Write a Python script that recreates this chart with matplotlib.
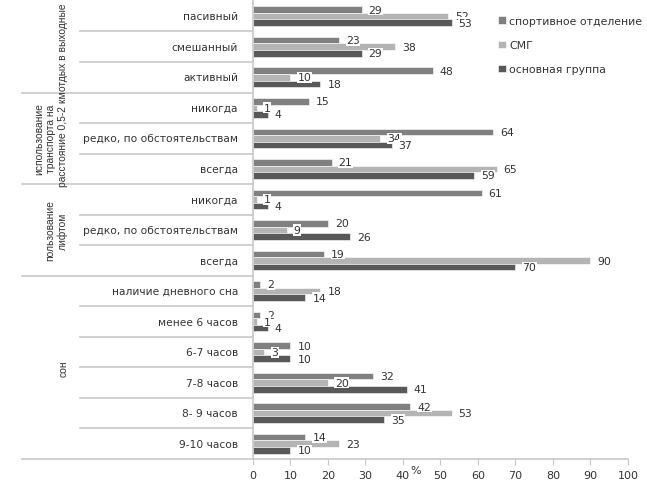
import matplotlib
matplotlib.use("Agg")
import matplotlib.pyplot as plt
import matplotlib.transforms as mtransforms

# ── Данные ───────────────────────────────────────────────────────────────────
categories = [
    'пасивный', 'смешанный', 'активный',
    'никогда', 'редко, по обстоятельствам', 'всегда',
    'никогда', 'редко, по обстоятельствам', 'всегда',
    'наличие дневного сна', 'менее 6 часов', '6-7 часов',
    '7-8 часов', '8- 9 часов', '9-10 часов',
]
sport = [29, 23, 48, 15, 64, 21, 61, 20, 19, 2, 2, 10, 32, 42, 14]
smg   = [52, 38, 10, 1, 34, 65, 1, 9, 90, 18, 1, 3, 20, 53, 23]
main  = [53, 29, 18, 4, 37, 59, 4, 26, 70, 14, 4, 10, 41, 35, 10]

series_names = ['спортивное отделение', 'СМГ', 'основная группа']

groups = ['отдых в выходные',
          'использование\nтранспорта на\nрасстояние 0,5-2 км',
          'пользование\nлифтом',
          'сон']
group_sizes = [3, 3, 3, 6]

xticks = list(range(0, 101, 10))

# ── Стиль ────────────────────────────────────────────────────────────────────
colors = ['#808080', '#b4b4b4', '#595959']
line_col = '#c8c8c8'
txt_col = '#333333'

fig = plt.figure(figsize=(6.47, 4.85), dpi=100)
fig.patch.set_facecolor('white')
ax = fig.add_axes([0.391, 0.0515, 0.5795, 0.9445])

bh = 0.215
offs = [-bh, 0.0, bh]
for vals, off, col, name in zip([sport, smg, main], offs, colors, series_names):
    ys = [i + off for i in range(len(categories))]
    ax.barh(ys, vals, height=bh, color=col, edgecolor='white',
            linewidth=0.4, label=name)
    for y, v in zip(ys, vals):
        ax.annotate(str(v), (v, y), xytext=(5, 0), textcoords='offset points',
                    ha='left', va='center', fontsize=7.8, color=txt_col,
                    bbox=dict(boxstyle='square,pad=0.05', fc='white', ec='none'),
                    zorder=4)

ax.set_xlim(0, 100)
ax.set_ylim(len(categories) - 0.5, -0.5)
ax.set_xticks(xticks)
ax.set_xticklabels([str(t) for t in xticks], fontsize=8, color=txt_col)
ax.tick_params(axis='x', length=4, color=line_col, pad=4)
ax.set_yticks([])

for s in ['top', 'right']:
    ax.spines[s].set_visible(False)
for s in ['left', 'bottom']:
    ax.spines[s].set_color(line_col)
    ax.spines[s].set_linewidth(1.2)

# "%" сразу после подписи 40
ax.text(41.9, -0.0125, '%',
        transform=mtransforms.blended_transform_factory(ax.transData, ax.transAxes),
        ha='left', va='top', fontsize=8, color=txt_col)

# Подписи категорий
trans = mtransforms.blended_transform_factory(ax.transAxes, ax.transData)
for i, c in enumerate(categories):
    ax.text(-0.04, i, c, transform=trans, ha='right', va='center',
            fontsize=7.7, color=txt_col)

# Разделительные линии и подписи групп
start = 0
for g, n in zip(groups, group_sizes):
    for k in range(1, n):
        y = start + k - 0.5
        ax.plot([-0.461, 0], [y, y], transform=trans, color=line_col,
                lw=1.2, clip_on=False)
    yb = start + n - 0.5
    ax.plot([-0.616, 0], [yb, yb], transform=trans, color=line_col,
            lw=1.2, clip_on=False)
    ax.text(-0.493, start + n / 2 - 0.5, g, transform=trans, rotation=90,
            ha='right', va='center', fontsize=7.4, color=txt_col,
            family='Liberation Sans', linespacing=1.25, multialignment='center')
    start += n

leg = fig.legend(loc='upper left', bbox_to_anchor=(0.755, 0.985), frameon=False,
                 fontsize=7.8, labelspacing=1.3, handlelength=0.7,
                 handleheight=0.7, handletextpad=0.3)
for t in leg.get_texts():
    t.set_color(txt_col)

fig.savefig('out.png', dpi=100, facecolor='white')
